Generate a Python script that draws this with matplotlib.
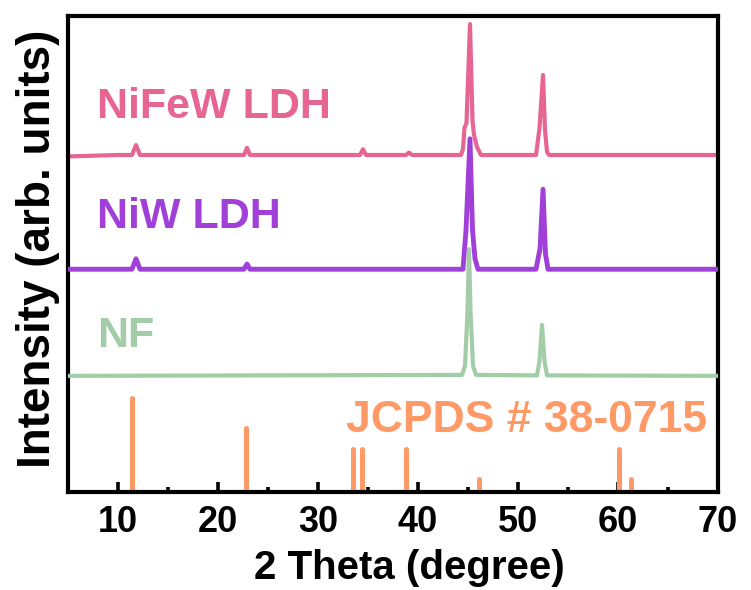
import matplotlib
matplotlib.use("Agg")
import matplotlib.pyplot as plt
from matplotlib.ticker import MultipleLocator

plt.rcParams['font.family'] = ['Liberation Sans', 'DejaVu Sans']
plt.rcParams['font.weight'] = 'bold'

# ---- data ----
# NF (green) trace: key points (2theta, intensity)
nf_x = [5.0, 44.4, 44.7, 44.95, 45.1, 45.25, 45.5, 45.8, 51.9, 52.15, 52.4, 52.65, 52.9, 70.0]
nf_y = [24.4, 24.6, 26.5, 38.0, 51.0, 38.0, 26.5, 24.6, 24.5, 27.5, 35.1, 27.5, 24.5, 24.4]

# NiW LDH (purple) trace
niw_x = [5.0, 11.4, 11.8, 12.2, 22.6, 22.9, 23.2, 44.5, 44.8, 45.2, 45.45, 45.7, 46.0,
         51.8, 52.05, 52.2, 52.5, 52.75, 53.0, 70.0]
niw_y = [46.8, 46.8, 49.0, 46.8, 46.8, 47.9, 46.8, 46.8, 55.0, 74.2, 55.0, 49.0, 46.8,
         46.8, 49.5, 51.0, 63.6, 50.0, 46.8, 46.8]

# NiFeW LDH (pink) trace
nifew_x = [5.0, 10.0, 11.4, 11.8, 12.2, 22.6, 22.9, 23.2, 34.2, 34.5, 34.8, 38.8, 39.1, 39.4,
           44.3, 44.5, 44.65, 44.85, 45.2, 45.45, 45.6, 45.9, 46.3,
           51.8, 52.0, 52.15, 52.5, 52.7, 52.9, 53.1, 70.0]
nifew_y = [70.5, 70.8, 70.8, 72.9, 70.8, 70.8, 72.3, 70.8, 70.8, 72.0, 70.8, 70.8, 71.3, 70.8,
           70.8, 72.0, 76.5, 77.5, 98.3, 78.0, 75.0, 72.5, 70.8,
           70.8, 74.0, 76.5, 87.6, 76.0, 71.5, 70.8, 70.8]

# JCPDS # 38-0715 reference sticks
ref_pos = [11.4, 22.8, 33.5, 34.4, 38.8, 46.1, 60.1, 61.3]
ref_int = [19.7, 13.4, 9.0, 9.0, 9.0, 2.7, 9.0, 2.7]

labels = ["NiFeW LDH", "NiW LDH", "NF", "JCPDS # 38-0715"]
xticks = [10, 20, 30, 40, 50, 60, 70]

# ---- colours ----
c_pink = "#E66592"
c_purple = "#A040D8"
c_green = "#A3CCA8"
c_orange = "#FF9966"

fig = plt.figure(figsize=(7.51, 5.90), dpi=100)
ax = fig.add_axes([68/751, 98/590, 650/751, 476/590])

ax.plot(nifew_x, nifew_y, color=c_pink, lw=3.0, solid_joinstyle='round', zorder=2)
ax.plot(niw_x, niw_y, color=c_purple, lw=3.5, solid_joinstyle='round', zorder=3)
ax.plot(nf_x, nf_y, color=c_green, lw=3.0, solid_joinstyle='round', zorder=4)
vl = ax.vlines(ref_pos, 0, ref_int, colors=c_orange, lw=3.6, zorder=2)
vl.set_capstyle('round')

ax.text(7.9, 78.6, labels[0], color=c_pink, fontsize=31, fontweight='bold', va='baseline')
ax.text(7.9, 55.5, labels[1], color=c_purple, fontsize=31, fontweight='bold', va='baseline')
ax.text(7.9, 30.5, labels[2], color=c_green, fontsize=31, fontweight='bold', va='baseline')
ax.text(32.8, 12.6, labels[3], color=c_orange, fontsize=32, fontweight='bold', va='baseline')

ax.set_xlim(5, 70)
ax.set_ylim(0, 100)
ax.set_xticks(xticks)
ax.set_xticklabels([str(t) for t in xticks])
ax.xaxis.set_minor_locator(MultipleLocator(5))
ax.set_yticks([])
ax.tick_params(axis='x', which='major', direction='in', length=7, width=2.6,
               labelsize=26, pad=9)
ax.tick_params(axis='x', which='minor', direction='in', length=3.6, width=2.6)
for lab in ax.get_xticklabels():
    lab.set_fontweight('bold')
for s in ax.spines.values():
    s.set_linewidth(3)

ax.set_xlabel("2 Theta (degree)", fontsize=29, fontweight='bold')
ax.set_ylabel("Intensity (arb. units)", fontsize=33, fontweight='bold')
ax.xaxis.set_label_coords(0.525, -0.12, transform=ax.transAxes)
ax.xaxis.label.set_va('top')
ax.yaxis.set_label_coords(-0.012, 0.51, transform=ax.transAxes)
ax.yaxis.label.set_va('bottom')

fig.savefig("out.png", dpi=100)
